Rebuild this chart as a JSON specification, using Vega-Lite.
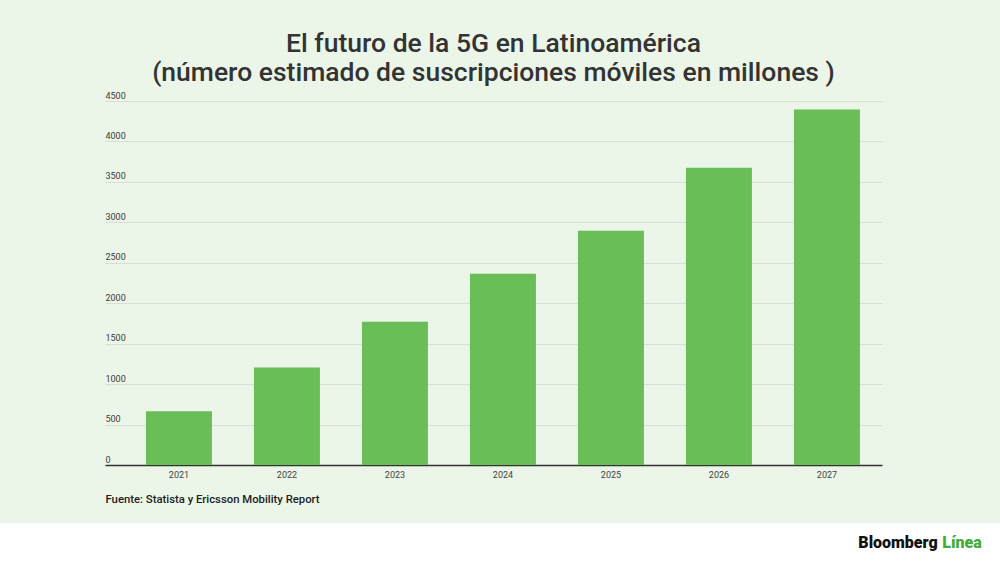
{
  "$schema": "https://vega.github.io/schema/vega-lite/v6.json",
  "background": "#ebf5e8",
  "padding": {"left": 0, "right": 0, "top": 30, "bottom": 0},
  "spacing": 18,
  "config": {
    "view": {"stroke": null},
    "font": "Roboto"
  },
  "vconcat": [
    {
      "spacing": 0,
      "hconcat": [
        {
          "width": 105,
          "height": 364,
          "data": {"values": []},
          "mark": {"type": "text"},
          "encoding": {}
        },
        {
          "width": 777,
          "height": 364,
          "title": {
            "text": ["El futuro de la 5G en Latinoamérica", "(número estimado de suscripciones móviles en millones )"],
            "font": "Roboto",
            "fontSize": 26.5,
            "fontWeight": 500,
            "color": "#333333",
            "lineHeight": 29,
            "anchor": "middle",
            "frame": "group",
            "offset": 5
          },
          "data": {
            "values": [
              {"anio": "2021", "suscripciones": 665},
              {"anio": "2022", "suscripciones": 1205},
              {"anio": "2023", "suscripciones": 1770},
              {"anio": "2024", "suscripciones": 2365},
              {"anio": "2025", "suscripciones": 2895},
              {"anio": "2026", "suscripciones": 3675},
              {"anio": "2027", "suscripciones": 4395}
            ]
          },
          "mark": {"type": "bar", "color": "#6abe57"},
          "encoding": {
            "x": {
              "field": "anio",
              "type": "ordinal",
              "scale": {"paddingInner": 0.389, "paddingOuter": 0.2917, "align": 0.65},
              "axis": {
                "title": "Fuente: Statista y Ericsson Mobility Report",
                "titleAnchor": "start",
                "titleAlign": "left",
                "titleFont": "Roboto",
                "titleFontSize": 11.3,
                "titleFontWeight": 500,
                "titleColor": "#222222",
                "titlePadding": 14,
                "labelAngle": 0,
                "labelFont": "Roboto",
                "labelFontSize": 9,
                "labelColor": "#444444",
                "labelPadding": 5,
                "ticks": false,
                "domainColor": "#333333",
                "domainWidth": 1.5
              }
            },
            "y": {
              "field": "suscripciones",
              "type": "quantitative",
              "scale": {"domain": [0, 4500], "nice": false},
              "axis": {
                "title": null,
                "values": [0, 500, 1000, 1500, 2000, 2500, 3000, 3500, 4000, 4500],
                "format": "d",
                "domain": false,
                "ticks": false,
                "labelAlign": "left",
                "labelBaseline": "bottom",
                "labelPadding": 0,
                "labelOffset": -1,
                "labelFont": "Roboto",
                "labelFontSize": 9,
                "labelColor": "#3d3d3d",
                "labelOverlap": false,
                "gridColor": "#d7dfd4",
                "gridWidth": 1
              }
            }
          }
        }
      ]
    },
    {
      "spacing": -2,
      "hconcat": [
        {
          "width": 859,
          "height": 40,
          "view": {"fill": "#ffffff", "stroke": null},
          "data": {"values": []},
          "mark": {"type": "text"},
          "encoding": {}
        },
        {
          "width": 143,
          "height": 40,
          "view": {"fill": "#ffffff", "stroke": null},
          "data": {
            "values": [
              {"palabra": "Bloomberg"},
              {"palabra": "Línea"}
            ]
          },
          "mark": {"type": "text", "font": "Roboto", "fontSize": 16, "fontWeight": 900, "baseline": "middle"},
          "encoding": {
            "x": {
              "field": "palabra",
              "type": "nominal",
              "scale": {"type": "point", "domain": ["Bloomberg", "Línea"], "padding": 0.617, "align": 0.494},
              "axis": null
            },
            "text": {"field": "palabra"},
            "color": {
              "field": "palabra",
              "type": "nominal",
              "scale": {"domain": ["Bloomberg", "Línea"], "range": ["#111111", "#43ad3a"]},
              "legend": null
            }
          }
        }
      ]
    }
  ]
}
